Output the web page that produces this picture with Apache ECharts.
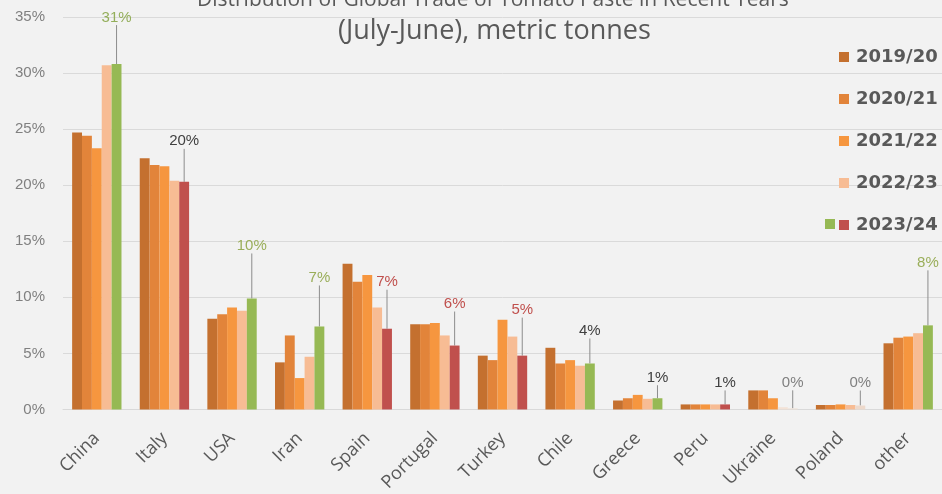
<!DOCTYPE html>
<html>
<head>
<meta charset="utf-8">
<script src="https://cdn.jsdelivr.net/npm/echarts@6/dist/echarts.min.js"></script>
<style>
  html, body { margin: 0; padding: 0; background: #F2F2F2; }
  #chart { width: 942px; height: 494px; }
</style>
</head>
<body>
<div id="chart"></div>
<script>
// Share of global tomato paste trade by origin, per season (July-June), %
const countries = ['China', 'Italy', 'USA', 'Iran', 'Spain', 'Portugal', 'Turkey', 'Chile', 'Greece', 'Peru', 'Ukraine', 'Poland', 'other'];
const seasons = ['2019/20', '2020/21', '2021/22', '2022/23', '2023/24'];

const share2019 = [24.7, 22.4, 8.1, 4.2, 13.0, 7.6, 4.8, 5.5, 0.8, 0.45, 1.7, 0.4, 5.9];
const share2020 = [24.4, 21.8, 8.5, 6.6, 11.4, 7.6, 4.4, 4.1, 1.0, 0.45, 1.7, 0.4, 6.4];
const share2021 = [23.3, 21.7, 9.1, 2.8, 12.0, 7.7, 8.0, 4.4, 1.3, 0.45, 1.0, 0.45, 6.5];
const share2022 = [30.7, 20.4, 8.8, 4.7, 9.1, 6.6, 6.5, 3.9, 0.95, 0.45, 0.2, 0.4, 6.8];
const share2023 = [30.8, 20.3, 9.9, 7.4, 7.2, 5.7, 4.8, 4.1, 1.0, 0.45, 0.1, 0.35, 7.5];

// Rounded labels shown above the latest season
const latestLabels = ['31%', '20%', '10%', '7%', '7%', '6%', '5%', '4%', '1%', '1%', '0%', '0%', '8%'];
// Direction of the latest season versus the previous one
const latestTrend = ['up', 'down', 'up', 'up', 'down', 'down', 'down', 'up', 'up', 'down', 'down', 'down', 'up'];

const yTicks = [0, 5, 10, 15, 20, 25, 30, 35];

// ---- presentation ----
const seasonColors = ['#C4702F', '#E2843A', '#F6963F', '#F7BC94'];
const trendBar = { up: '#96B954', down: '#C0504D' };
const labelInk = ['#93AE5A', '#404040', '#9AAE5A', '#9AAE5A', '#C0504D', '#C0504D', '#C0504D', '#404040', '#404040', '#404040', '#808080', '#808080', '#9AAE5A'];
const labelLift = [34, 28, 40, 36, 34, 29, 33, 20, 8, 9, 13, 10, 50];
const paleLatest = { 10: '#EFE3D8', 11: '#EDD9CB' };

const chart = echarts.init(document.getElementById('chart'), null, { renderer: 'canvas' });

const seriesValues = [share2019, share2020, share2021, share2022];
const series = seriesValues.map((vals, k) => ({
  name: seasons[k],
  type: 'bar',
  barGap: '0%',
  barCategoryGap: '27%',
  itemStyle: { color: seasonColors[k] },
  data: vals.map((v, i) => (k === 3 && i === 10 ? { value: v, itemStyle: { color: '#F3E2D6' } } : v))
}));

series.push({
  name: seasons[4],
  type: 'bar',
  barGap: '0%',
  barCategoryGap: '27%',
  itemStyle: { color: trendBar.down },
  data: share2023.map((v, i) => ({
    value: v,
    itemStyle: { color: paleLatest[i] || trendBar[latestTrend[i]] },
    label: { color: labelInk[i] }
  })),
  label: {
    show: true,
    position: 'top',
    fontFamily: 'Liberation Sans',
    fontSize: 15,
    formatter: p => latestLabels[p.dataIndex]
  },
  labelLine: {
    show: true,
    length2: 0,
    lineStyle: { color: '#8C8C8C', width: 1 }
  },
  labelLayout: p => ({ dy: -labelLift[p.dataIndex] })
});

chart.setOption({
  backgroundColor: '#F2F2F2',
  animation: false,
  title: [
    {
      text: 'Distribution of Global Trade of Tomato Paste in Recent Years',
      left: 192,
      top: -15,
      textStyle: { fontFamily: 'Open Sans', fontSize: 21, fontWeight: 'normal', color: '#595959' }
    },
    {
      text: '(July-June), metric tonnes',
      left: 333,
      top: 13,
      textStyle: { fontFamily: 'Open Sans', fontSize: 27, fontWeight: 'normal', color: '#595959' }
    }
  ],
  legend: {
    orient: 'vertical',
    left: 834,
    top: 43,
    itemWidth: 10,
    itemHeight: 10,
    itemGap: 24,
    icon: 'rect',
    data: seasons,
    textStyle: { fontFamily: 'DejaVu Sans', fontWeight: 'bold', fontSize: 18, color: '#595959', padding: [0, 0, 0, 2] }
  },
  grid: { left: 63, right: -1, top: 17, bottom: 84 },
  xAxis: {
    type: 'category',
    data: countries,
    axisTick: { show: false },
    axisLine: { lineStyle: { color: '#D9D9D9' } },
    axisLabel: {
      rotate: 45,
      interval: 0,
      margin: 26,
      fontFamily: 'Open Sans',
      fontSize: 18,
      color: '#595959'
    }
  },
  yAxis: {
    type: 'value',
    min: yTicks[0],
    max: yTicks[yTicks.length - 1],
    interval: 5,
    axisLine: { show: false },
    axisTick: { show: false },
    splitLine: { lineStyle: { color: '#DADADA' } },
    axisLabel: {
      margin: 18,
      fontFamily: 'Liberation Sans',
      fontSize: 15,
      color: '#808080',
      formatter: v => v + '%'
    }
  },
  graphic: [
    // second swatch of the two-colour 2023/24 legend key
    { type: 'rect', left: 825, top: 219, shape: { width: 10, height: 10 }, style: { fill: trendBar.up } }
  ],
  series: series
});
</script>
</body>
</html>
